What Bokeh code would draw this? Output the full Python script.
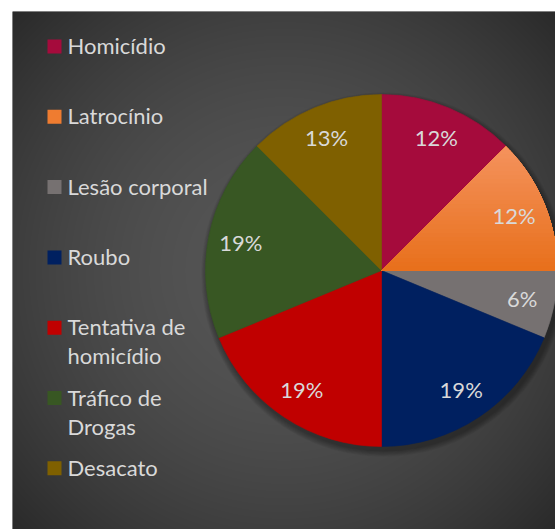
import textwrap
import numpy as np
from bokeh.plotting import figure
from bokeh.models import Range1d, ColumnDataSource
from bokeh.core.properties import value
from bokeh.embed import file_html
from bokeh.resources import INLINE

# ---------------- data ----------------
categories = ["Homicídio", "Latrocínio", "Lesão corporal", "Roubo",
              "Tentativa de homicídio", "Tráfico de Drogas", "Desacato"]
counts = [2, 2, 1, 3, 3, 3, 2]
pct_labels = ["12%", "12%", "6%", "19%", "19%", "19%", "13%"]
colors = ["#A50B3C", "#EF7C30", "#767171", "#002060", "#C00000", "#385723", "#7F6000"]
grad_top, grad_bottom = "#F4925C", "#E8701C"   # Latrocínio slice gradient

# ---------------- layout ----------------
FW, FH = 543, 518           # frame size in px (1 data unit = 1 px)
CX, CY, R = 369, 259, 176   # pie centre / radius
FONT = value("Lato")
FSIZE = "22px"
TXT = "#D9D9D9"

p = figure(width=555, height=529, x_range=Range1d(0, FW), y_range=Range1d(0, FH),
           output_backend="svg", toolbar_location=None,
           min_border_left=12, min_border_top=11, min_border_right=0, min_border_bottom=0,
           x_axis_location=None, y_axis_location=None,
           background_fill_color="#3c3c3c", border_fill_color="white",
           outline_line_color=None)
p.grid.visible = False

# ---------------- radial background ----------------
yy, xx = np.mgrid[0:FH, 0:FW] + 0.5
d = np.hypot(xx - FW * 0.5, yy - FH * 0.5)
f = np.clip(d / 380.0, 0, 1) ** 1.8
g = (86 - 45 * f).astype(np.uint32)
img = (255 << 24) | (g << 16) | (g << 8) | g
p.image_rgba(image=[img.astype(np.uint32)], x=0, y=0, dw=FW, dh=FH)

# ---------------- shadow (mostly bottom / right) ----------------
for k in range(1, 9):
    p.circle(x=CX + 2, y=CY - 4, radius=R + k * 0.8, fill_color="black",
             fill_alpha=0.045, line_color=None)

# ---------------- pie ----------------
total = float(sum(counts))
cum = np.concatenate([[0], np.cumsum(counts)]) / total
start = np.pi / 2 - cum[:-1] * 2 * np.pi
end = np.pi / 2 - cum[1:] * 2 * np.pi
src = ColumnDataSource(dict(start=start, end=end, color=colors, cat=categories))
p.wedge(x=CX, y=CY, radius=R, start_angle="start", end_angle="end",
        direction="clock", fill_color="color", line_color="color",
        line_width=0.6, source=src)


# gradient overlay for the Latrocínio slice
def wedge_poly(a0, a1, n=90):
    ang = np.linspace(a0, a1, n)
    return [CX] + list(CX + R * np.cos(ang)), [CY] + list(CY + R * np.sin(ang))


def clip_below(xs, ys, t):
    ox, oy = [], []
    n = len(xs)
    for i in range(n):
        x1, y1 = xs[i], ys[i]
        x2, y2 = xs[(i + 1) % n], ys[(i + 1) % n]
        in1, in2 = y1 <= t, y2 <= t
        if in1:
            ox.append(x1); oy.append(y1)
        if in1 != in2:
            s = (t - y1) / (y2 - y1)
            ox.append(x1 + s * (x2 - x1)); oy.append(t)
    return ox, oy


def hex2rgb(h):
    return np.array([int(h[i:i + 2], 16) for i in (1, 3, 5)], float)


gi = categories.index("Latrocínio")
wx, wy = wedge_poly(end[gi], start[gi])
ytop, ybot = max(wy), min(wy)
N = 30
c0, c1 = hex2rgb(grad_top), hex2rgb(grad_bottom)
pxs, pys, pcs = [], [], []
for k in range(N):
    t = ytop - k * (ytop - ybot) / N + (0.5 if k == 0 else 0)
    cx_, cy_ = clip_below(wx, wy, t)
    if len(cx_) < 3:
        continue
    c = c0 + (c1 - c0) * (k / (N - 1))
    pxs.append(cx_); pys.append(cy_)
    pcs.append("#%02x%02x%02x" % tuple(int(round(v)) for v in c))
p.patches(xs=pxs, ys=pys, fill_color=pcs, line_color=None)

# percentage labels
mid = (start + end) / 2
lr = 0.815 * R
p.text(x=CX + lr * np.cos(mid), y=CY + lr * np.sin(mid), text=pct_labels,
       text_font=FONT, text_font_size=FSIZE, text_color=TXT,
       text_align="center", text_baseline="middle")

# ---------------- legend ----------------
LX_SQ, LX_TX, LY0, LDY, LINE = 42, 55, 484, 70.3, 29
ly = [LY0 - i * LDY for i in range(len(categories))]
p.rect(x=[LX_SQ] * len(categories), y=[v - 1 for v in ly], width=14, height=14,
       fill_color=colors, line_color=None)
tx, ty, tt = [], [], []
for i, cat in enumerate(categories):
    for j, line in enumerate(textwrap.wrap(cat, 14)):
        tx.append(LX_TX); ty.append(ly[i] - j * LINE); tt.append(line)
p.text(x=tx, y=ty, text=tt, text_font=FONT, text_font_size=FSIZE,
       text_color=TXT, text_align="left", text_baseline="middle")

open("out.html", "w").write(file_html(p, INLINE))
